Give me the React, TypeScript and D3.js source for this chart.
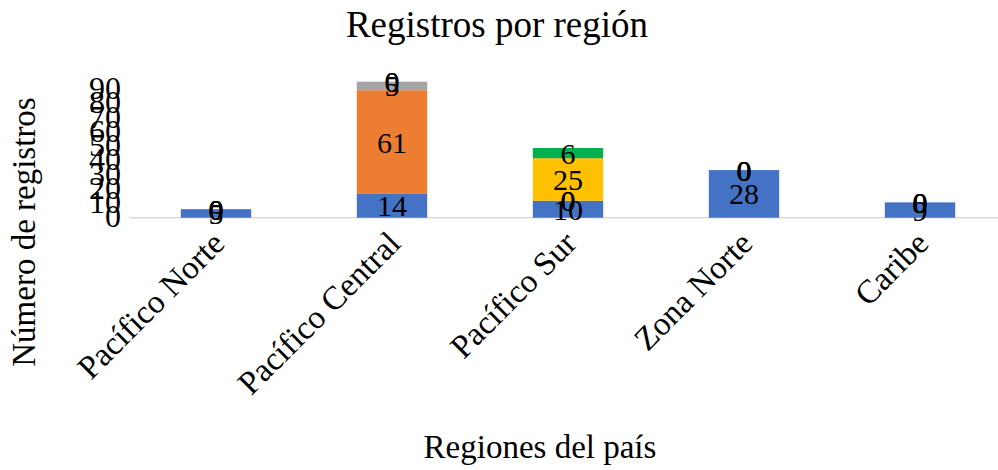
import React from "react";
import * as d3 from "d3";

// data
const regions = ["Pacífico Norte", "Pacífico Central", "Pacífico Sur", "Zona Norte", "Caribe"];
const serieA = [5, 14, 10, 28, 9];
const serieB = [0, 61, 0, 0, 0];
const serieC = [0, 5, 0, 0, 0];
const serieD = [0, 0, 25, 0, 0];
const serieE = [0, 0, 6, 0, 0];
const tickLabels = [0, 10, 20, 30, 40, 50, 60, 70, 80, 90];

const seriesKeys = ["a", "b", "c", "d", "e"];
const colors = ["#4472C4", "#ED7D31", "#A5A5A5", "#FFC000", "#00B050"];

const W = 998;
const H = 470;
const font = "'Liberation Serif', 'Times New Roman', serif";

export default function App() {
  const rows = regions.map((r, i) => ({
    region: r,
    a: serieA[i],
    b: serieB[i],
    c: serieC[i],
    d: serieD[i],
    e: serieE[i],
  }));
  const stacked = d3.stack<any>().keys(seriesKeys)(rows);

  const x = d3.scaleBand().domain(regions).range([128, 1008]).paddingInner(0.6).paddingOuter(0.3);
  const y = d3.scaleLinear().domain([0, 90]).range([217.7, 64.7]);
  // tick labels in the original are squeezed closer than the bars' scale
  const yLab = d3.scaleLinear().domain([0, 90]).range([216, 88]);

  return (
    <svg width={W} height={H} style={{ position: "absolute", left: 0, top: 0 }} fontFamily={font}>
      <rect width={W} height={H} fill="#fff" />
      <text x={497} y={37} textAnchor="middle" fontSize={37}>Registros por región</text>

      {tickLabels.map((t) => (
        <text key={t} x={121} y={yLab(t)} dy="0.35em" textAnchor="end" fontSize={32}>{t}</text>
      ))}

      <line x1={129} x2={W} y1={y(0)} y2={y(0)} stroke="#D9D9D9" strokeWidth={1.5} />

      {stacked.map((s, si) => (
        <g key={s.key} fill={colors[si]}>
          {s.map((d, i) => (
            <rect
              key={i}
              x={x(regions[i])}
              y={y(d[1])}
              width={x.bandwidth()}
              height={y(d[0]) - y(d[1])}
            />
          ))}
        </g>
      ))}

      {stacked.map((s) => (
        <g key={"l" + s.key} fontSize={30} textAnchor="middle">
          {s.map((d, i) => (
            <text key={i} x={x(regions[i])! + x.bandwidth() / 2} y={y((d[0] + d[1]) / 2)} dy="0.35em">
              {d[1] - d[0]}
            </text>
          ))}
        </g>
      ))}

      {regions.map((r) => {
        const cx = x(r)! + x.bandwidth() / 2 - 6;
        return (
          <text key={r} transform={`translate(${cx},${229}) rotate(-45)`} textAnchor="end" dy="0.7em" fontSize={33}>
            {r}
          </text>
        );
      })}

      <text transform={`translate(35,232) rotate(-90)`} textAnchor="middle" fontSize={33}>Número de registros</text>
      <text x={540} y={458} textAnchor="middle" fontSize={33}>Regiones del país</text>
    </svg>
  );
}
